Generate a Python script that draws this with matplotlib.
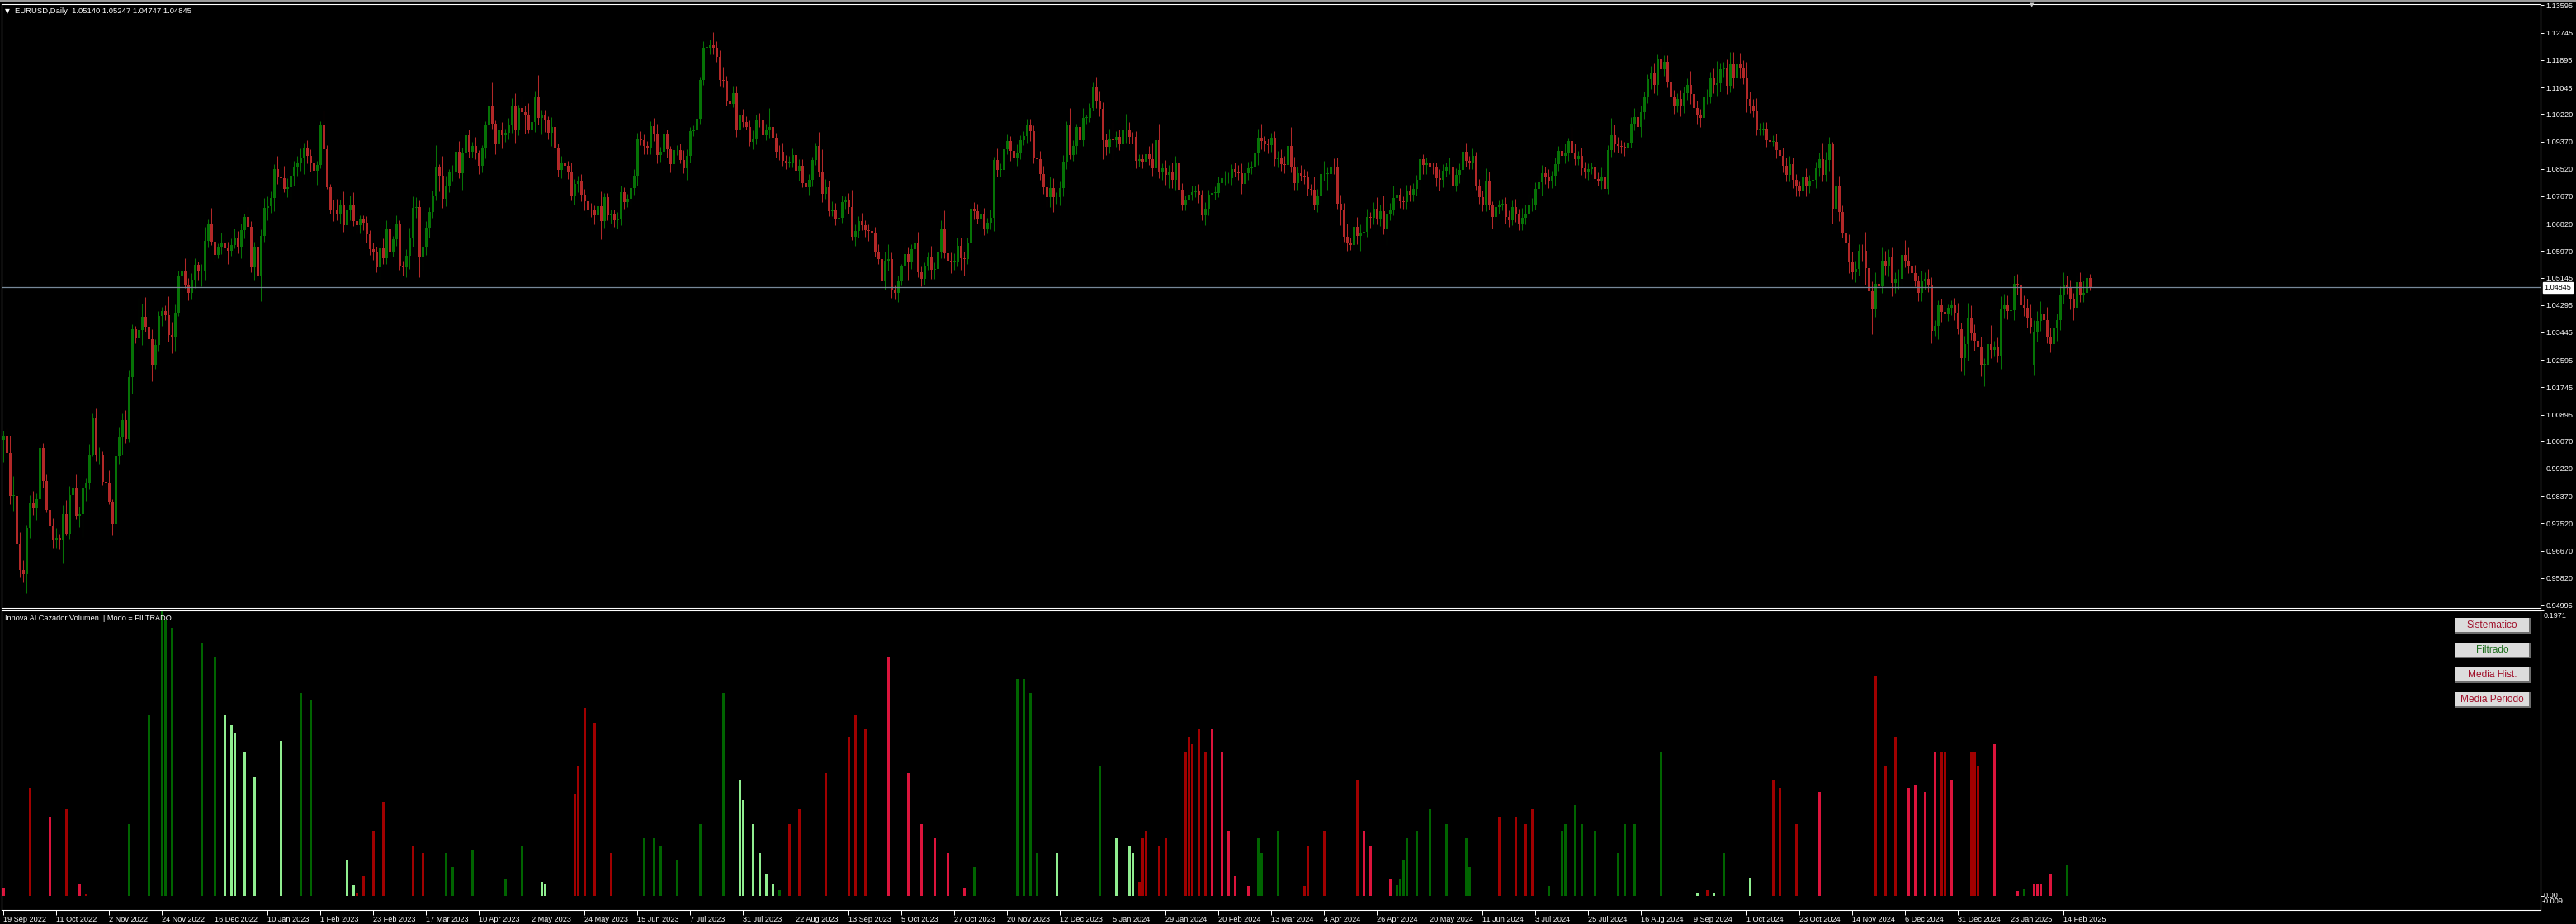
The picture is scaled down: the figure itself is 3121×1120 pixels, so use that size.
import numpy as np
import matplotlib
matplotlib.use("Agg")
import matplotlib.pyplot as plt
from matplotlib.patches import Rectangle
import matplotlib.transforms as mtransforms

plt.rcParams['font.family'] = ['Liberation Sans', 'DejaVu Sans']

# ---------------- data: EURUSD daily, 19 Sep 2022 -> 26 Feb 2025 ----------------
# closes in pips relative to 1.0000, one list per month
sep22 = [25, -30, -163, -162, -310, -392, -406, -263, -185, -201]
oct22 = [-174, -14, -117, -207, -257, -299, -293, -298, -219, -280, -161, -137, -225, -220, -139, -122, -35, 78, -36, -34, -118]
nov22 = [-122, -182, -250, -40, 20, 73, 13, 206, 354, 326, 352, 394, 363, 324, 243, 305, 395, 410, 398, 337, 330, 406]
dec22 = [522, 535, 493, 468, 508, 555, 534, 537, 628, 681, 626, 585, 608, 624, 606, 597, 617, 638, 610, 662, 704]
jan23 = [671, 547, 607, 522, 645, 732, 736, 761, 851, 829, 822, 790, 794, 831, 856, 871, 885, 917, 893, 869, 847, 863]
feb23 = [989, 913, 795, 727, 724, 712, 741, 677, 723, 740, 689, 676, 694, 686, 648, 604, 595, 546, 606, 576]
mar23 = [667, 596, 634, 682, 548, 547, 582, 640, 731, 733, 577, 611, 670, 719, 770, 856, 831, 760, 800, 842, 843, 904, 838]
apr23 = [902, 955, 906, 922, 901, 861, 915, 990, 1046, 992, 928, 971, 956, 963, 990, 1047, 972, 1040, 1029, 1017]
may23 = [974, 997, 1074, 1010, 1020, 1006, 963, 982, 915, 849, 872, 862, 841, 770, 805, 812, 771, 752, 727, 723, 709, 736, 689]
jun23 = [763, 708, 712, 693, 698, 780, 749, 759, 792, 830, 944, 940, 923, 917, 985, 958, 895, 906, 960, 912, 867, 909]
jul23 = [910, 880, 853, 892, 968, 971, 1008, 1128, 1228, 1228, 1238, 1228, 1200, 1129, 1126, 1064, 1054, 1086, 975, 1017, 996]
aug23 = [983, 937, 947, 1006, 1002, 957, 973, 981, 948, 906, 904, 876, 872, 872, 895, 846, 862, 809, 796, 817, 880, 922, 843]
sep23 = [775, 796, 721, 726, 697, 699, 749, 753, 733, 642, 659, 691, 678, 661, 659, 652, 594, 571, 502, 566, 573]
oct23 = [476, 468, 505, 548, 588, 562, 604, 621, 530, 512, 553, 577, 540, 542, 594, 668, 589, 567, 564, 565, 614, 575]
nov23 = [572, 620, 728, 720, 698, 711, 667, 684, 700, 880, 848, 849, 912, 939, 908, 887, 903, 941, 954, 988, 968, 888]
dec23 = [883, 837, 795, 764, 792, 763, 764, 793, 875, 990, 896, 922, 981, 942, 1011, 1011, 1042, 1105, 1060, 1039]
jan24 = [942, 921, 947, 940, 950, 931, 972, 972, 951, 950, 878, 883, 875, 898, 883, 855, 942, 843, 854, 833, 843, 818]
feb24 = [873, 788, 742, 755, 773, 779, 784, 771, 708, 728, 772, 777, 778, 808, 822, 822, 822, 851, 844, 838, 804]
mar24 = [838, 855, 856, 900, 948, 938, 927, 926, 948, 882, 888, 867, 864, 923, 860, 808, 838, 831, 826, 790, 787]
apr24 = [742, 770, 835, 837, 837, 860, 857, 743, 727, 642, 624, 617, 672, 644, 655, 656, 703, 699, 729, 694, 720, 665]
may24 = [713, 727, 761, 772, 752, 749, 783, 771, 789, 819, 883, 865, 871, 857, 856, 822, 819, 847, 857, 858, 801, 833, 848]
jun24 = [904, 878, 870, 891, 801, 765, 740, 813, 741, 703, 734, 739, 744, 702, 692, 734, 713, 681, 701, 712]
jul24 = [740, 741, 790, 810, 839, 826, 813, 830, 866, 908, 893, 901, 938, 900, 883, 892, 854, 844, 850, 856, 820, 816, 826]
aug24 = [790, 910, 955, 930, 922, 920, 917, 933, 992, 1012, 982, 1028, 1077, 1130, 1151, 1112, 1193, 1160, 1185, 1120, 1077, 1047]
sep24 = [1068, 1045, 1087, 1112, 1083, 1040, 1017, 1011, 1073, 1075, 1133, 1113, 1117, 1162, 1163, 1110, 1180, 1133, 1176, 1164, 1135]
oct24 = [1068, 1045, 1032, 975, 975, 977, 941, 937, 937, 909, 892, 862, 833, 866, 817, 797, 781, 828, 797, 813, 817, 855, 883]
nov24 = [834, 880, 930, 728, 800, 719, 655, 624, 564, 530, 541, 598, 597, 544, 472, 418, 496, 488, 567, 553, 578]
dec24 = [497, 510, 512, 586, 567, 553, 529, 502, 467, 502, 512, 490, 350, 364, 430, 408, 401, 422, 428, 407, 354]
jan25 = [265, 308, 390, 341, 318, 302, 244, 245, 308, 290, 300, 272, 417, 430, 410, 414, 495, 491, 430, 420, 391, 362]
feb25 = [347, 380, 402, 383, 330, 308, 360, 382, 463, 491, 484, 446, 422, 500, 460, 466, 514, 484.5]

closes_pips = (sep22 + oct22 + nov22 + dec22 + jan23 + feb23 + mar23 + apr23 + may23 + jun23
               + jul23 + aug23 + sep23 + oct23 + nov23 + dec23 + jan24 + feb24 + mar24 + apr24
               + may24 + jun24 + jul24 + aug24 + sep24 + oct24 + nov24 + dec24 + jan25 + feb25)

# upper / lower wick length in pips (beyond the candle body)
upper_wick = (
    [15, 22, 55, 60, 18, 35, 30, 12, 25, 38]
    + [20, 13, 15, 22, 10, 25, 30, 12, 28, 43, 30, 12, 40, 25, 12, 15, 35, 15, 30, 22, 10]
    + [65, 40, 10, 12, 30, 20, 30, 20, 15, 10, 100, 40, 60, 45, 30, 20, 15, 15, 20, 60, 40, 25]
    + [15, 10, 40, 20, 20, 20, 10, 20, 45, 15, 50, 15, 12, 30, 25, 20, 20, 30, 20, 20, 10]
    + [30, 20, 20, 30, 20, 30, 30, 20, 15, 40, 30, 40, 30, 20, 20, 20, 30, 15, 25, 20, 20, 15]
    + [10, 44, 12, 10, 30, 35, 15, 40, 25, 30, 40, 30, 15, 15, 20, 15, 20, 15, 15, 30]
    + [25, 10, 10, 25, 10, 20, 20, 30, 35, 30, 20, 15, 20, 15, 15, 70, 10, 60, 30, 10, 20, 30, 35]
    + [15, 20, 20, 15, 30, 10, 10, 10, 25, 75, 10, 15, 25, 15, 20, 25, 40, 10, 40, 20]
    + [40, 20, 20, 70, 15, 15, 10, 30, 20, 15, 20, 15, 15, 30, 15, 20, 25, 20, 15, 20, 15, 20, 45]
    + [15, 15, 15, 15, 20, 20, 15, 15, 25, 20, 20, 25, 20, 15, 15, 25, 35, 15, 20, 15, 10, 20]
    + [15, 20, 30, 20, 15, 15, 15, 10, 20, 25, 15, 38, 20, 20, 40, 15, 20, 25, 25, 20, 20]
    + [20, 20, 25, 15, 20, 40, 20, 60, 20, 15, 20, 30, 20, 20, 20, 20, 20, 20, 25, 20, 10, 10, 45]
    + [70, 25, 20, 25, 20, 30, 20, 15, 25, 55, 20, 15, 25, 15, 20, 15, 20, 25, 30, 30, 45]
    + [20, 15, 15, 10, 35, 20, 15, 20, 35, 20, 10, 15, 35, 20, 20, 25, 55, 20, 25, 25, 25, 25]
    + [20, 20, 30, 20, 25, 30, 20, 15, 25, 10, 35, 20, 15, 20, 15, 25, 25, 15, 15, 20, 20, 20]
    + [25, 25, 25, 15, 35, 30, 15, 20, 20, 10, 50, 20, 10, 30, 30, 10, 15, 15, 34, 35]
    + [20, 20, 30, 50, 20, 25, 15, 50, 25, 15, 20, 15, 15, 15, 25, 50, 10, 50, 15, 25, 20, 30]
    + [20, 16, 20, 15, 20, 20, 15, 20, 15, 20, 15, 10, 20, 20, 20, 25, 20, 15, 20, 20, 30]
    + [15, 20, 20, 15, 30, 45, 15, 20, 15, 20, 20, 25, 25, 20, 60, 30, 20, 25, 20, 20, 15]
    + [40, 20, 15, 40, 20, 25, 25, 30, 30, 20, 40, 15, 15, 30, 25, 20, 25, 15, 20, 35, 20, 50]
    + [45, 20, 40, 20, 20, 15, 20, 20, 20, 15, 20, 15, 15, 20, 15, 15, 30, 20, 15, 30, 20, 20, 20]
    + [15, 30, 15, 25, 15, 20, 20, 40, 30, 10, 20, 15, 15, 20, 20, 20, 25, 15, 30, 30]
    + [35, 20, 20, 20, 25, 20, 25, 15, 20, 15, 25, 30, 10, 45, 30, 15, 25, 20, 20, 15, 25, 20, 30]
    + [20, 15, 55, 35, 20, 20, 15, 15, 20, 30, 30, 20, 15, 15, 20, 30, 15, 40, 20, 20, 30, 20]
    + [20, 30, 20, 20, 45, 20, 25, 20, 25, 25, 20, 30, 70, 20, 20, 30, 35, 34, 20, 35, 25]
    + [50, 25, 25, 40, 20, 20, 20, 20, 20, 25, 20, 25, 25, 25, 20, 20, 15, 20, 25, 20, 30, 20, 20]
    + [50, 25, 20, 7, 25, 30, 20, 25, 25, 30, 25, 20, 20, 60, 35, 30, 35, 25, 40, 30, 25]
    + [30, 20, 30, 20, 45, 40, 20, 25, 20, 35, 20, 30, 25, 20, 15, 20, 15, 10, 15, 25, 30]
    + [20, 25, 47, 40, 30, 20, 30, 20, 30, 60, 20, 30, 40, 35, 30, 20, 25, 30, 30, 30, 30, 40]
    + [35, 30, 40, 25, 40, 30, 30, 20, 25, 40, 30, 25, 20, 20, 30, 40, 20, 11]
)
lower_wick = (
    [70, 15, 25, 45, 20, 25, 25, 58, 30, 20]
    + [35, 50, 20, 8, 20, 25, 25, 32, 75, 5, 16, 20, 8, 35, 70, 38, 20, 5, 18, 30, 12]
    + [20, 5, 35, 10, 25, 55, 12, 10, 50, 15, 45, 45, 15, 30, 50, 10, 20, 30, 15, 20, 50, 45]
    + [10, 70, 10, 25, 20, 25, 25, 45, 30, 20, 10, 20, 10, 20, 15, 40, 15, 12, 20, 35, 25]
    + [20, 15, 40, 20, 80, 20, 40, 20, 40, 25, 15, 10, 25, 40, 30, 25, 25, 50, 25, 25, 20, 45]
    + [10, 8, 5, 15, 35, 20, 30, 20, 20, 30, 15, 25, 25, 25, 25, 20, 25, 15, 40, 20]
    + [20, 10, 15, 20, 10, 25, 30, 40, 30, 30, 60, 40, 25, 30, 20, 15, 50, 30, 25, 20, 30, 15, 15]
    + [50, 15, 20, 20, 20, 25, 20, 30, 15, 15, 30, 20, 40, 20, 20, 25, 40, 15, 25, 55]
    + [10, 30, 30, 20, 50, 40, 20, 40, 15, 20, 25, 25, 20, 15, 30, 25, 20, 30, 25, 20, 30, 30, 55]
    + [20, 15, 25, 20, 25, 20, 20, 15, 20, 20, 30, 15, 25, 20, 20, 20, 25, 20, 15, 25, 25, 20]
    + [15, 10, 15, 35, 20, 15, 20, 15, 15, 20, 20, 20, 15, 20, 20, 15, 20, 10, 25, 20, 15]
    + [10, 15, 25, 20, 20, 25, 15, 25, 15, 20, 25, 15, 20, 15, 15, 25, 30, 15, 30, 25, 20, 15, 15]
    + [25, 15, 15, 15, 20, 15, 15, 20, 20, 10, 30, 20, 15, 20, 30, 20, 15, 15, 20, 25, 30]
    + [25, 20, 30, 15, 70, 55, 20, 15, 15, 25, 20, 15, 30, 30, 20, 20, 15, 20, 35, 25, 15, 35]
    + [50, 15, 25, 25, 15, 15, 20, 15, 20, 40, 20, 20, 20, 15, 30, 20, 25, 20, 15, 20, 30, 20]
    + [30, 20, 20, 30, 30, 45, 20, 25, 25, 25, 15, 20, 25, 25, 20, 20, 15, 10, 20, 25]
    + [60, 25, 20, 60, 20, 20, 20, 40, 20, 20, 25, 20, 20, 25, 20, 25, 30, 20, 25, 30, 40, 25]
    + [30, 15, 20, 20, 20, 20, 15, 25, 15, 30, 20, 25, 20, 15, 25, 20, 15, 20, 15, 20, 30]
    + [40, 20, 20, 20, 35, 25, 20, 25, 20, 20, 25, 20, 25, 35, 20, 20, 20, 15, 20, 20, 15]
    + [15, 25, 20, 20, 50, 25, 20, 15, 50, 15, 25, 16, 20, 25, 45, 15, 15, 30, 20, 15, 20, 15]
    + [50, 20, 20, 15, 20, 20, 20, 20, 20, 20, 40, 30, 30, 20, 20, 25, 35, 25, 20, 20, 25, 20, 25]
    + [35, 20, 20, 20, 15, 20, 20, 20, 15, 35, 20, 20, 15, 20, 20, 15, 25, 20, 20, 20]
    + [20, 20, 15, 15, 40, 20, 20, 20, 30, 20, 20, 25, 25, 20, 20, 20, 20, 20, 25, 15, 25, 15, 25]
    + [15, 15, 20, 25, 20, 20, 25, 20, 15, 20, 25, 30, 20, 20, 30, 25, 30, 20, 20, 15, 25, 25]
    + [20, 30, 20, 20, 30, 25, 25, 30, 35, 20, 20, 25, 35, 25, 25, 25, 20, 30, 20, 30, 20]
    + [40, 20, 20, 20, 20, 20, 20, 15, 15, 25, 25, 20, 20, 20, 25, 30, 15, 25, 30, 20, 20, 25, 25]
    + [20, 20, 35, 45, 40, 30, 15, 25, 35, 20, 30, 20, 30, 50, 20, 80, 25, 40, 20, 30, 35]
    + [40, 30, 30, 30, 20, 25, 20, 15, 25, 25, 25, 20, 40, 15, 40, 30, 15, 20, 25, 25, 15]
    + [40, 55, 50, 20, 30, 30, 35, 66, 30, 25, 20, 20, 40, 30, 25, 20, 30, 30, 30, 25, 30, 20]
    + [35, 30, 30, 30, 20, 25, 30, 40, 30, 30, 20, 30, 40, 40, 20, 20, 15, 10]
)
first_open = 1.0012
gap_opens = {615: 1.0245}   # weekend gap, 3 Feb 2025

date_labels = ["19 Sep 2022", "11 Oct 2022", "2 Nov 2022", "24 Nov 2022", "16 Dec 2022",
               "10 Jan 2023", "1 Feb 2023", "23 Feb 2023", "17 Mar 2023", "10 Apr 2023",
               "2 May 2023", "24 May 2023", "15 Jun 2023", "7 Jul 2023", "31 Jul 2023",
               "22 Aug 2023", "13 Sep 2023", "5 Oct 2023", "27 Oct 2023", "20 Nov 2023",
               "12 Dec 2023", "5 Jan 2024", "29 Jan 2024", "20 Feb 2024", "13 Mar 2024",
               "4 Apr 2024", "26 Apr 2024", "20 May 2024", "11 Jun 2024", "3 Jul 2024",
               "25 Jul 2024", "16 Aug 2024", "9 Sep 2024", "1 Oct 2024", "23 Oct 2024",
               "14 Nov 2024", "6 Dec 2024", "31 Dec 2024", "23 Jan 2025", "14 Feb 2025"]

price_ticks = [1.13595, 1.12745, 1.11895, 1.11045, 1.10220, 1.09370, 1.08520, 1.07670,
               1.06820, 1.05970, 1.05145, 1.04295, 1.03445, 1.02595, 1.01745, 1.00895,
               1.00070, 0.99220, 0.98370, 0.97520, 0.96670, 0.95820, 0.94995]
last_price = 1.04845

# volume indicator: bar index, value, colour class
vol_idx = [0, 8, 14, 19, 23, 25, 38, 44, 48, 49, 51, 60, 64, 67, 69, 70, 73, 76, 84, 90, 93,
           104, 106, 107, 109, 112, 115, 124, 127, 134, 136, 142, 152, 157, 163, 164, 173, 174, 176, 179, 184,
           194, 197, 199, 204, 211, 218, 223, 224, 227, 229, 231, 233, 235, 238, 241, 249, 256, 258, 261, 268,
           274, 278, 282, 286, 291, 294, 307, 309, 311, 313, 319, 332, 337, 341, 342, 344, 345, 346, 350, 352,
           358, 359, 360, 362, 364, 366, 369, 371, 373, 377, 380, 381, 386, 394, 395, 400, 410, 412, 414, 420,
           422, 423, 424, 425, 428, 432, 437, 443, 444, 453, 458, 461, 463, 468, 472, 473, 476, 478, 482, 489,
           491, 494, 502, 513, 516, 518, 521, 529, 536, 538, 543, 550, 567, 570, 573, 577, 579, 582, 585, 587,
           588, 590, 596, 597, 598, 603, 610, 612, 615, 616, 617, 620, 625]
vol_val = [0.006, 0.075, 0.055, 0.06, 0.0086, 0.0015, 0.05, 0.125, 0.1971, 0.19, 0.185, 0.175, 0.165, 0.125, 0.118, 0.113, 0.099, 0.082, 0.107, 0.14, 0.135,
           0.025, 0.0075, 0.002, 0.014, 0.045, 0.065, 0.035, 0.03, 0.03, 0.02, 0.032, 0.0125, 0.035, 0.010, 0.009, 0.07, 0.09, 0.13, 0.12, 0.03,
           0.04, 0.04, 0.035, 0.025, 0.05, 0.14, 0.08, 0.066, 0.05, 0.03, 0.015, 0.009, 0.004, 0.05, 0.06, 0.085, 0.11, 0.125, 0.115, 0.165,
           0.085, 0.05, 0.04, 0.03, 0.006, 0.02, 0.15, 0.15, 0.14, 0.03, 0.03, 0.09, 0.04, 0.035, 0.03, 0.01, 0.04, 0.045, 0.035, 0.04,
           0.10, 0.11, 0.105, 0.115, 0.10, 0.115, 0.10, 0.045, 0.014, 0.007, 0.04, 0.03, 0.045, 0.007, 0.035, 0.045, 0.08, 0.045, 0.035, 0.012,
           0.0075, 0.012, 0.025, 0.04, 0.045, 0.06, 0.05, 0.04, 0.02, 0.055, 0.055, 0.05, 0.06, 0.007, 0.045, 0.05, 0.063, 0.05, 0.045, 0.03,
           0.05, 0.05, 0.10, 0.002, 0.004, 0.002, 0.03, 0.013, 0.08, 0.075, 0.05, 0.072, 0.152, 0.09, 0.11, 0.075, 0.077, 0.072, 0.10, 0.10,
           0.10, 0.08, 0.10, 0.10, 0.09, 0.105, 0.0035, 0.0052, 0.0085, 0.008, 0.008, 0.015, 0.022]
vol_col = ['c', 'r', 'c', 'r', 'c', 'r', 'g', 'g', 'g', 'g', 'g', 'g', 'g', 'l', 'l', 'l', 'l', 'l', 'l', 'g', 'g',
           'l', 'l', 'r', 'r', 'r', 'r', 'r', 'r', 'g', 'g', 'g', 'g', 'g', 'l', 'l', 'r', 'r', 'r', 'r', 'r',
           'g', 'g', 'g', 'g', 'g', 'g', 'l', 'l', 'l', 'l', 'l', 'l', 'g', 'r', 'r', 'r', 'r', 'r', 'r', 'c',
           'c', 'c', 'c', 'c', 'c', 'g', 'g', 'g', 'g', 'g', 'l', 'g', 'l', 'l', 'l', 'r', 'r', 'r', 'r', 'r',
           'r', 'r', 'r', 'r', 'r', 'c', 'c', 'c', 'c', 'c', 'g', 'g', 'g', 'r', 'r', 'r', 'r', 'c', 'c', 'c',
           'g', 'g', 'g', 'g', 'g', 'g', 'g', 'g', 'g', 'r', 'r', 'r', 'r', 'g', 'g', 'g', 'g', 'g', 'g', 'g',
           'g', 'g', 'g', 'l', 'r', 'l', 'g', 'l', 'r', 'r', 'r', 'c', 'r', 'r', 'r', 'c', 'c', 'c', 'c', 'r',
           'r', 'c', 'r', 'r', 'r', 'c', 'c', 'g', 'c', 'c', 'c', 'c', 'g']

buttons = ["Sistematico", "Filtrado", "Media Hist.", "Media Periodo"]
button_colors = ['#a0102a', '#1d6e1d', '#a0102a', '#a0102a']

# ---------------- build OHLC ----------------
close = 1 + np.array(closes_pips, dtype=float) / 10000
opens = np.r_[first_open, close[:-1]]
for k, v in gap_opens.items():
    opens[k] = v
high = np.maximum(opens, close) + np.array(upper_wick) / 10000
low = np.minimum(opens, close) - np.array(lower_wick) / 10000
n = len(close)
x = np.arange(n)

# ---------------- figure ----------------
W, H = 3121, 1120
fig = plt.figure(figsize=(W / 100, H / 100), dpi=100, facecolor='black')


def fx(px):
    return px / W


def fy(py):
    return 1 - py / H


ax = fig.add_axes([fx(2), fy(737), (3078 - 2) / W, (737 - 5) / H])
ax2 = fig.add_axes([fx(2), fy(1103), (3078 - 2) / W, (1103 - 740) / H])

for a in (ax, ax2):
    a.set_facecolor('black')
    a.set_xlim(-0.5, 768.5)
    for s in a.spines.values():
        s.set_color('white')
        s.set_linewidth(0.8)

BULL, BEAR = '#067306', '#b22828'
col = np.where(close >= opens, BULL, BEAR)
ax.vlines(x, low, high, colors=col, linewidth=0.75)
ax.bar(x, np.maximum(np.abs(close - opens), 0.0002), bottom=np.minimum(opens, close),
       width=0.75, color=col, linewidth=0)
ax.axhline(last_price, color='#778899', linewidth=0.9)
ax.set_ylim(0.94893, 1.13633)

ax.yaxis.tick_right()
ax.set_yticks(price_ticks)
ax.set_yticklabels([f'{v:.5f}' for v in price_ticks])
ax.tick_params(axis='y', colors='white', length=3, width=0.7, pad=1.5, labelsize=6.6)
ax.set_xticks([])

ax.annotate(f'{last_price:.5f}', xy=(1, last_price), xycoords=('axes fraction', 'data'),
            xytext=(3.2, 0), textcoords='offset points', ha='left', va='center',
            color='black', fontsize=6.6,
            bbox=dict(boxstyle='square,pad=0.2', facecolor='white', edgecolor='white'))

ax.text(0.0013, 0.989, '\u25bc', transform=ax.transAxes, color='white', fontsize=5.5,
        va='center', ha='left', family='DejaVu Sans')
ax.text(0.0052, 0.989, 'EURUSD,Daily  1.05140 1.05247 1.04747 1.04845', transform=ax.transAxes,
        color='white', fontsize=6.8, va='center', ha='left')

# ---------------- volume sub-window ----------------
vcolors = {'g': '#006400', 'l': '#90ee90', 'r': '#a00000', 'c': '#dc143c'}
ax2.bar(vol_idx, vol_val, width=0.75, color=[vcolors[c] for c in vol_col], linewidth=0)
ax2.set_ylim(-0.0094, 0.1971)

ax2.yaxis.tick_right()
ax2.set_yticks([0.1971, 0.0])
ax2.set_yticklabels([])
ax2.tick_params(axis='y', colors='white', length=3, width=0.7)
yt = mtransforms.blended_transform_factory(ax2.transAxes, ax2.transData)
ax2.annotate('0.1971', xy=(1, 1), xycoords='axes fraction', xytext=(2.5, -1.5),
             textcoords='offset points', ha='left', va='top', color='white', fontsize=6.6)
ax2.annotate('0.00', xy=(1, 0.0), xycoords=yt, xytext=(2.5, 1), textcoords='offset points',
             ha='left', va='center', color='white', fontsize=6.6)
ax2.annotate('-0.009', xy=(1, 0.0), xycoords=yt, xytext=(1.5, -4.5), textcoords='offset points',
             ha='left', va='center', color='white', fontsize=6.6)

ax2.set_xticks(np.arange(0, 16 * len(date_labels), 16))
ax2.set_xticklabels(date_labels)
ax2.tick_params(axis='x', colors='white', length=4, width=0.7, pad=1, labelsize=6.6)
for lbl in ax2.get_xticklabels():
    lbl.set_horizontalalignment('left')

ax2.text(0.0013, 0.985, 'Innova AI Cazador Volumen || Modo = FILTRADO', transform=ax2.transAxes,
         color='white', fontsize=6.6, va='top', ha='left')

# buttons on the right of the sub-window
bx, bw, bh = 2975, 91, 19
for i, (label, tc) in enumerate(zip(buttons, button_colors)):
    top = 749 + 30 * i
    fig.add_artist(Rectangle((fx(bx), fy(top + bh)), bw / W, bh / H, transform=fig.transFigure,
                             facecolor='#6e6e6e', edgecolor='none'))
    fig.add_artist(Rectangle((fx(bx), fy(top + bh - 2)), (bw - 2) / W, (bh - 2) / H,
                             transform=fig.transFigure, facecolor='#dcdcdc', edgecolor='none'))
    fig.text(fx(bx + bw / 2 - 1), fy(top + bh / 2 - 0.5), label, color=tc, ha='center', va='center',
             fontsize=8.6)

# window frame details
fig.add_artist(Rectangle((0, fy(3)), 1, 3 / H, transform=fig.transFigure,
                         facecolor='#9a9a9a', edgecolor='none'))
fig.text(fx(2462), fy(6), '\u25bc', color='#c8c8c8', fontsize=5, ha='center', va='center',
         family='DejaVu Sans')

fig.savefig('out.png', dpi=100, facecolor='black')
